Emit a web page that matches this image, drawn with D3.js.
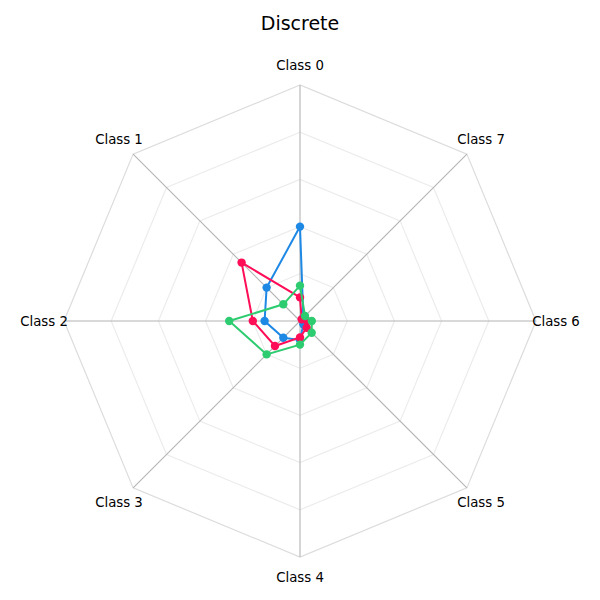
<!DOCTYPE html>
<html>
<head>
<meta charset="utf-8">
<script src="https://cdn.jsdelivr.net/npm/d3@7"></script>
<style>
  html, body { margin: 0; padding: 0; background: #fff; }
  svg { display: block; font-family: "DejaVu Sans", sans-serif; }
</style>
</head>
<body>
<div id="chart"></div>
<script>
// Radar chart - "Discrete"

const classes = ['Class 0', 'Class 1', 'Class 2', 'Class 3', 'Class 4', 'Class 5', 'Class 6', 'Class 7'];
const blueValues = [0.40, 0.20, 0.15, 0.10, 0.08, 0.02, 0.015, 0.02];
const redValues = [0.10, 0.35, 0.20, 0.15, 0.07, 0.04, 0.03, 0.01];
const greenValues = [0.15, 0.10, 0.30, 0.20, 0.10, 0.07, 0.05, 0.03];
const gridLevels = [0.2, 0.4, 0.6, 0.8, 1.0];

const seriesList = [
    { name: 'blue', values: blueValues, color: '#1e88e5' },
    { name: 'red', values: redValues, color: '#ff0d57' },
    { name: 'green', values: greenValues, color: '#2ecc71' }
];

const width = 600, height = 600;
const cx = 300, cy = 321;
const radius = 236;

const svg = d3.select('#chart')
    .append('svg')
    .attr('width', width)
    .attr('height', height);

// title
svg.append('text')
    .attr('x', width / 2)
    .attr('y', 23)
    .attr('text-anchor', 'middle')
    .attr('dominant-baseline', 'central')
    .style('font-size', '19px')
    .style('fill', '#000')
    .text('Discrete');

const g = svg.append('g')
    .attr('transform', `translate(${cx},${cy})`);

// angle: class 0 at top, going counter-clockwise
const angle = d3.scalePoint()
    .domain(classes)
    .range([0, 2 * Math.PI * (classes.length - 1) / classes.length]);

const r = d3.scaleLinear()
    .domain([0, 1])
    .range([0, radius]);

function px(c, v) { return -Math.sin(angle(c)) * r(v); }
function py(c, v) { return -Math.cos(angle(c)) * r(v); }

// grid rings
g.selectAll('.ring')
    .data(gridLevels)
    .enter()
    .append('polygon')
    .attr('class', 'ring')
    .attr('points', lv => classes.map(c => `${px(c, lv)},${py(c, lv)}`).join(' '))
    .attr('fill', 'none')
    .attr('stroke', lv => lv === 1 ? '#dcdcdc' : '#ececec')
    .attr('stroke-width', 1.2);

// spokes
g.selectAll('.spoke')
    .data(classes)
    .enter()
    .append('line')
    .attr('class', 'spoke')
    .attr('x1', 0)
    .attr('y1', 0)
    .attr('x2', c => px(c, 1))
    .attr('y2', c => py(c, 1))
    .attr('stroke', '#b4b4b4')
    .attr('stroke-width', 1.1);

// axis labels
g.selectAll('.axis-label')
    .data(classes)
    .enter()
    .append('text')
    .attr('class', 'axis-label')
    .attr('x', c => -Math.sin(angle(c)) * (radius + 20))
    .attr('y', c => -Math.cos(angle(c)) * (radius + 20))
    .attr('text-anchor', 'middle')
    .attr('dominant-baseline', 'central')
    .style('font-size', '13.3px')
    .style('fill', '#000')
    .text(c => c);

// series
const line = d3.lineRadial()
    .angle(d => -angle(d.c))
    .radius(d => r(d.v))
    .curve(d3.curveLinearClosed);

seriesList.forEach(s => {
    const pts = classes.map((c, i) => ({ c: c, v: s.values[i] }));
    const sg = g.append('g').attr('class', 'series-' + s.name);

    sg.append('path')
        .datum(pts)
        .attr('d', line)
        .attr('fill', 'none')
        .attr('stroke', s.color)
        .attr('stroke-width', 2);

    sg.selectAll('circle')
        .data(pts)
        .enter()
        .append('circle')
        .attr('cx', d => px(d.c, d.v))
        .attr('cy', d => py(d.c, d.v))
        .attr('r', 4.2)
        .attr('fill', s.color);
});
</script>
</body>
</html>
